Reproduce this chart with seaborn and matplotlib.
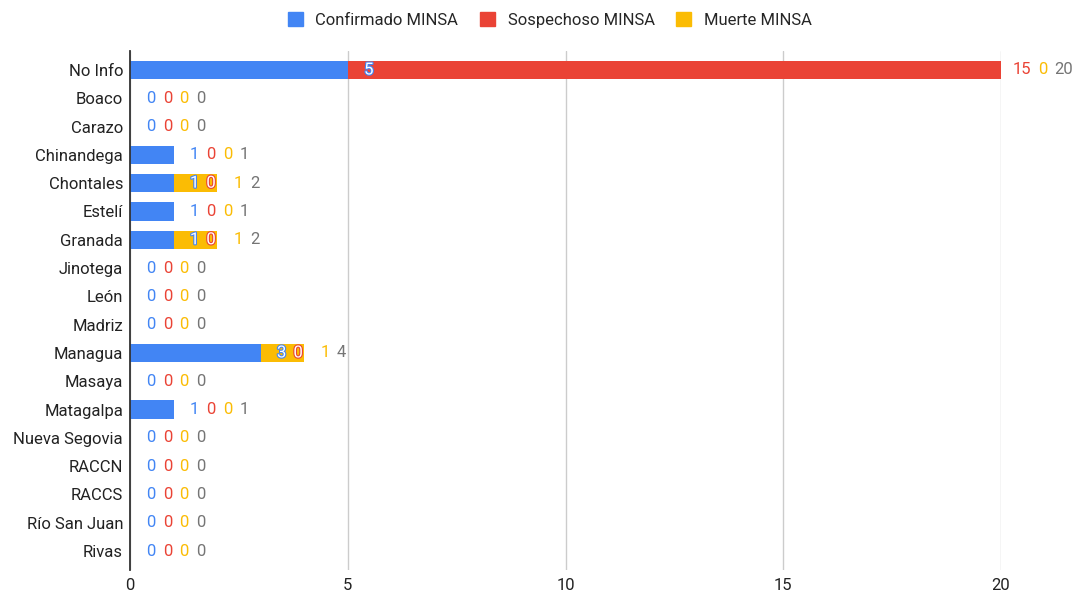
import matplotlib
matplotlib.use("Agg")
import matplotlib.pyplot as plt
import matplotlib.patheffects as pe
from matplotlib.patches import Patch
import seaborn as sns
import pandas as pd

# data
departamentos = ["No Info", "Boaco", "Carazo", "Chinandega", "Chontales", "Estelí",
                 "Granada", "Jinotega", "León", "Madriz", "Managua", "Masaya",
                 "Matagalpa", "Nueva Segovia", "RACCN", "RACCS", "Río San Juan", "Rivas"]
confirmado = [5, 0, 0, 1, 1, 1, 1, 0, 0, 0, 3, 0, 1, 0, 0, 0, 0, 0]
sospechoso = [15, 0, 0, 0, 0, 0, 0, 0, 0, 0, 0, 0, 0, 0, 0, 0, 0, 0]
muerte = [0, 0, 0, 0, 1, 0, 1, 0, 0, 0, 1, 0, 0, 0, 0, 0, 0, 0]
series_names = ["Confirmado MINSA", "Sospechoso MINSA", "Muerte MINSA"]
x_ticks = [0, 5, 10, 15, 20]

BLUE = "#4285F4"
RED = "#EA4335"
YELLOW = "#FBBC04"
GRAY = "#757575"

df = pd.DataFrame({"dep": departamentos, "conf": confirmado,
                   "sosp": sospechoso, "muerte": muerte})
df["cs"] = df["conf"] + df["sosp"]
df["total"] = df["cs"] + df["muerte"]

sns.set_theme(style="white")
plt.rcParams["font.family"] = ["Roboto", "DejaVu Sans"]

fig = plt.figure(figsize=(10.78, 5.94), dpi=100)
ax = fig.add_axes([130 / 1078, 24 / 594, 871 / 1078, 519 / 594])

# stacked bars: draw cumulative totals back to front
for col, c in [("total", YELLOW), ("cs", RED), ("conf", BLUE)]:
    sns.barplot(data=df, x=col, y="dep", orient="h", color=c, width=0.65,
                saturation=1, ax=ax, order=departamentos, zorder=2, linewidth=0)

ax.set_xlim(0, 20)
ax.set_ylim(17.67, -0.67)
ax.set_xticks(x_ticks)
ax.set_xticklabels([str(t) for t in x_ticks], fontsize=12, color="#222222")
ax.tick_params(axis="y", labelsize=12, labelcolor="#222222", length=0, pad=5)
ax.tick_params(axis="x", length=0, pad=6)
ax.set_xlabel("")
ax.set_ylabel("")
ax.xaxis.grid(True, color="#cccccc", linewidth=1, zorder=0)
ax.yaxis.grid(False)
for s in ["top", "right", "bottom"]:
    ax.spines[s].set_visible(False)
ax.spines["left"].set_color("#333333")
ax.spines["left"].set_linewidth(1.3)
ax.spines["left"].set_zorder(3)

# data labels, placed like the sheets chart (in pixels, converted to data units)
px_per_unit = 871 / 20
char_w = 8.5
gap = 8.0
offset = 21.0
for i, row in df.iterrows():
    ends = [row["conf"], row["cs"], row["total"], row["total"]]
    vals = [row["conf"], row["sosp"], row["muerte"], row["total"]]
    cols = [BLUE, RED, YELLOW, GRAY]
    prev_x, prev_w = None, 0
    for k in range(4):
        txt = str(int(vals[k]))
        w = char_w * len(txt)
        x = ends[k] * px_per_unit + offset
        if prev_x is not None:
            x = max(x, prev_x + prev_w / 2 + w / 2 + gap)
        if k == 3:
            x = prev_x + prev_w / 2 + w / 2 + gap
        inside = x < row["total"] * px_per_unit and k < 3
        if inside:
            ax.text(x / px_per_unit, i, txt, ha="center", va="center", fontsize=12,
                    color="white", zorder=5, clip_on=False,
                    path_effects=[pe.withStroke(linewidth=1.6, foreground=cols[k])])
        else:
            ax.text(x / px_per_unit, i, txt, ha="center", va="center", fontsize=12,
                    color=cols[k], zorder=5, clip_on=False)
        prev_x, prev_w = x, w

handles = [Patch(facecolor=c, edgecolor=c) for c in [BLUE, RED, YELLOW]]
fig.legend(handles, series_names, loc="center", bbox_to_anchor=(0.51, 1 - 20 / 594),
           ncol=3, frameon=False, fontsize=12, handlelength=0.9, handleheight=0.9,
           columnspacing=1.3, handletextpad=0.75)

fig.savefig("out.png", dpi=100)
